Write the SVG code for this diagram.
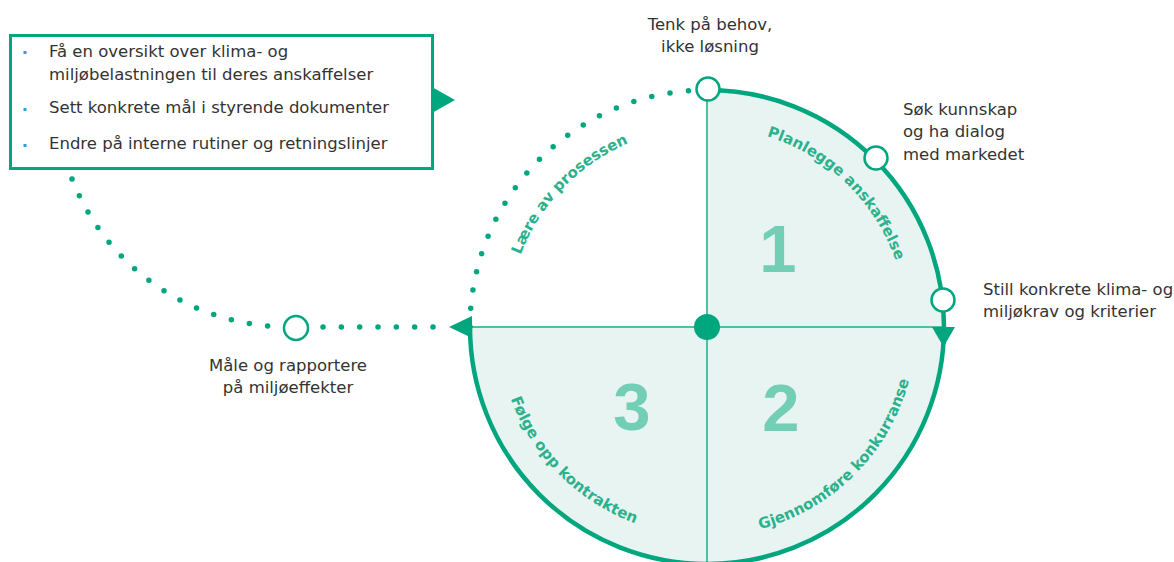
<svg xmlns="http://www.w3.org/2000/svg" width="1174" height="562" viewBox="0 0 1174 562">
<style>
.lbl{font-family:"DejaVu Sans","Liberation Sans",sans-serif;font-size:16.5px;fill:#333333}
.arc{font-family:"DejaVu Sans","Liberation Sans",sans-serif;font-size:15px;font-weight:bold;fill:#2BB18C}
.num{font-family:"Liberation Sans",Arial,sans-serif;font-size:67px;font-weight:bold;fill:#72CEB5;text-anchor:middle}
.node{fill:#ffffff;stroke:#00A67E;stroke-width:2.5}
.dots{fill:none;stroke:#00A67E;stroke-width:5.5;stroke-linecap:round}
.bullet{fill:#2A9FD8}
.green{fill:#00A67E}
</style>
<defs>
<path id="p1" d="M 686.1 128.1 A 200 200 0 0 1 906.5 341.0"/>
<path id="p0" d="M 508.1 347.9 A 200 200 0 0 1 721.0 127.5"/>
<path id="p2" d="M 688.8 535.2 A 209 209 0 0 0 915.2 308.8"/>
<path id="p3" d="M 498.8 308.8 A 209 209 0 0 0 725.2 535.2"/>
</defs>
<rect width="1174" height="562" fill="#ffffff"/>

<g id="wheel">
<path d="M 707 327 L 707 90 A 237 237 0 1 1 470 327 Z" fill="#E8F4F1"/>
<line x1="707" y1="90" x2="707" y2="566" stroke="#4FBF9F" stroke-width="2"/>
<line x1="470" y1="327" x2="944" y2="327" stroke="#4FBF9F" stroke-width="2"/>
<text class="num" x="778" y="272">1</text>
<text class="num" x="781" y="431">2</text>
<text class="num" x="632" y="430">3</text>
<text class="arc"><textPath href="#p1" startOffset="50%" text-anchor="middle">Planlegge anskaffelse</textPath></text>
<text class="arc"><textPath href="#p0" startOffset="50%" text-anchor="middle">Lære av prosessen</textPath></text>
<text class="arc"><textPath href="#p2" startOffset="50%" text-anchor="middle">Gjennomføre konkurranse</textPath></text>
<text class="arc"><textPath href="#p3" startOffset="50%" text-anchor="middle">Følge opp kontrakten</textPath></text>
</g>

<g id="connectors">
<path d="M 707 90 A 237 237 0 1 1 470 327" fill="none" stroke="#00A67E" stroke-width="4.5"/>
<path class="dots" d="M 707 90 A 237 237 0 0 0 470 327" stroke-dasharray="0 18.6" stroke-dashoffset="-18.6"/>
<path class="dots" d="M 433 327 H 323" stroke-dasharray="0 18.33"/>
<path class="dots" d="M 72 179 A 232 232 0 0 0 268 326" stroke-dasharray="0 18.4"/>
<polygon class="green" points="932,327 955,327 943.5,347"/>
<polygon class="green" points="449,327 472,316 472,338"/>
</g>

<g id="center">
<circle cx="707" cy="327" r="13" class="green"/>
</g>

<g id="box">
<rect x="10.5" y="35.5" width="422" height="133" fill="#ffffff" stroke="#00A67E" stroke-width="3"/>
<polygon class="green" points="432,87 455,100 432,113"/>
<rect class="bullet" x="23.5" y="51" width="3" height="3"/>
<rect class="bullet" x="23.5" y="108" width="3" height="3"/>
<rect class="bullet" x="23.5" y="144" width="3" height="3"/>
<text class="lbl" x="49" y="57">Få en oversikt over klima- og</text>
<text class="lbl" x="49" y="80">miljøbelastningen til deres anskaffelser</text>
<text class="lbl" x="49" y="113">Sett konkrete mål i styrende dokumenter</text>
<text class="lbl" x="49" y="149">Endre på interne rutiner og retningslinjer</text>
</g>

<g id="node-tenk">
<circle cx="708" cy="89" r="11.5" class="node"/>
<text class="lbl" x="710" y="30" text-anchor="middle">Tenk på behov,</text>
<text class="lbl" x="710" y="52" text-anchor="middle">ikke løsning</text>
</g>

<g id="node-sok">
<circle cx="876" cy="158" r="11.5" class="node"/>
<text class="lbl" x="903" y="115">Søk kunnskap</text>
<text class="lbl" x="903" y="137">og ha dialog</text>
<text class="lbl" x="903" y="160">med markedet</text>
</g>

<g id="node-still">
<circle cx="943" cy="300" r="11.5" class="node"/>
<text class="lbl" x="983" y="295">Still konkrete klima- og</text>
<text class="lbl" x="983" y="317">miljøkrav og kriterier</text>
</g>

<g id="node-male">
<circle cx="296" cy="328" r="12" class="node"/>
<text class="lbl" x="288" y="371" text-anchor="middle">Måle og rapportere</text>
<text class="lbl" x="288" y="393" text-anchor="middle">på miljøeffekter</text>
</g>
</svg>
